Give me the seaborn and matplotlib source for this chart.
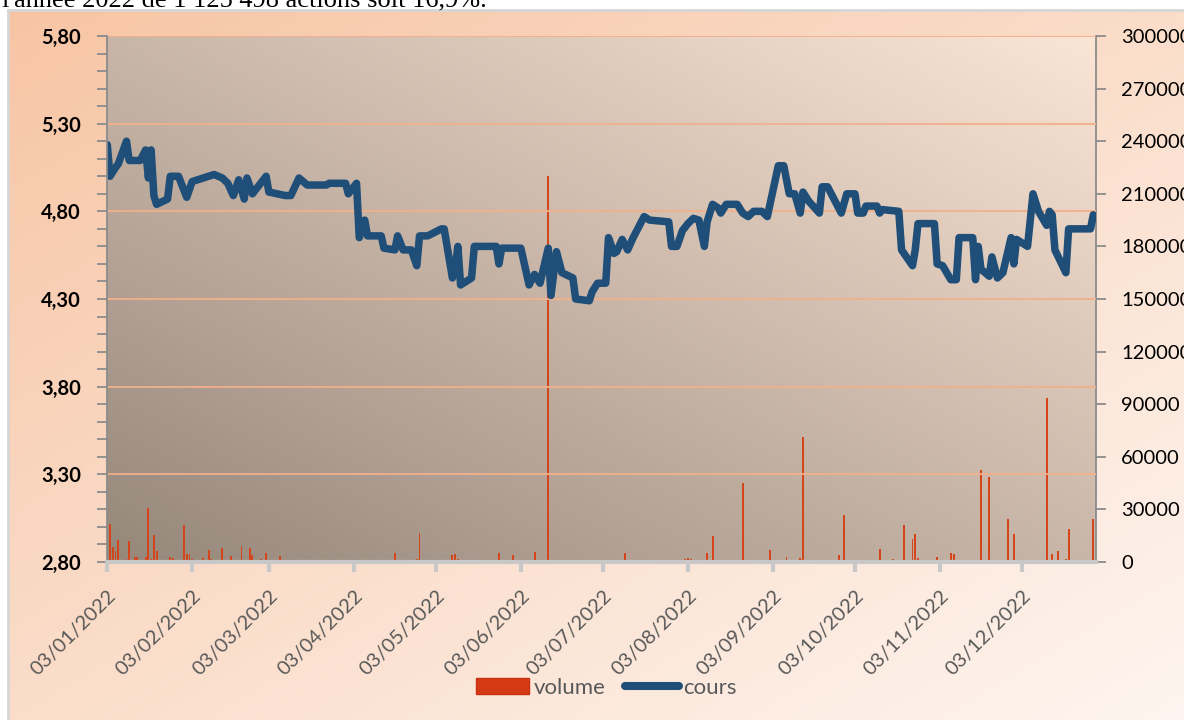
import numpy as np
import pandas as pd
import matplotlib
matplotlib.use("Agg")
import matplotlib.pyplot as plt
import matplotlib.ticker as mticker
from matplotlib.lines import Line2D
from matplotlib.patches import Patch
import seaborn as sns

# cours de l'action
cours_dates = [
    "2022-01-03", "2022-01-04", "2022-01-06", "2022-01-07", "2022-01-10", "2022-01-11",
    "2022-01-15", "2022-01-17", "2022-01-18", "2022-01-19", "2022-01-20", "2022-01-21",
    "2022-01-25", "2022-01-26", "2022-01-29", "2022-02-01", "2022-02-03", "2022-02-07",
    "2022-02-11", "2022-02-14", "2022-02-16", "2022-02-18", "2022-02-20", "2022-02-22",
    "2022-02-23", "2022-02-25", "2022-02-28", "2022-03-02", "2022-03-03", "2022-03-09",
    "2022-03-11", "2022-03-14", "2022-03-17", "2022-03-24", "2022-03-25", "2022-03-31",
    "2022-04-01", "2022-04-04", "2022-04-05", "2022-04-07", "2022-04-08", "2022-04-13",
    "2022-04-14", "2022-04-18", "2022-04-19", "2022-04-21", "2022-04-24", "2022-04-26",
    "2022-04-27", "2022-04-30", "2022-05-05", "2022-05-06", "2022-05-09", "2022-05-10",
    "2022-05-11", "2022-05-12", "2022-05-16", "2022-05-17", "2022-05-25", "2022-05-26",
    "2022-05-27", "2022-06-03", "2022-06-06", "2022-06-08", "2022-06-10", "2022-06-13",
    "2022-06-14", "2022-06-16", "2022-06-18", "2022-06-22", "2022-06-23", "2022-06-28",
    "2022-06-29", "2022-07-01", "2022-07-04", "2022-07-05", "2022-07-07", "2022-07-08",
    "2022-07-10", "2022-07-12", "2022-07-14", "2022-07-18", "2022-07-20", "2022-07-27",
    "2022-07-28", "2022-07-30", "2022-08-01", "2022-08-03", "2022-08-05", "2022-08-07",
    "2022-08-09", "2022-08-10", "2022-08-12", "2022-08-14", "2022-08-15", "2022-08-17",
    "2022-08-21", "2022-08-23", "2022-08-25", "2022-08-27", "2022-08-30", "2022-09-01",
    "2022-09-05", "2022-09-07", "2022-09-09", "2022-09-11", "2022-09-13", "2022-09-14",
    "2022-09-16", "2022-09-20", "2022-09-21", "2022-09-23", "2022-09-28", "2022-09-30",
    "2022-10-03", "2022-10-04", "2022-10-06", "2022-10-07", "2022-10-11", "2022-10-12",
    "2022-10-13", "2022-10-19", "2022-10-20", "2022-10-24", "2022-10-25", "2022-10-26",
    "2022-11-01", "2022-11-02", "2022-11-04", "2022-11-07", "2022-11-09", "2022-11-10",
    "2022-11-15", "2022-11-16", "2022-11-17", "2022-11-18", "2022-11-21", "2022-11-22",
    "2022-11-24", "2022-11-26", "2022-11-29", "2022-11-30", "2022-12-01", "2022-12-05",
    "2022-12-07", "2022-12-09", "2022-12-12", "2022-12-13", "2022-12-14", "2022-12-15",
    "2022-12-19", "2022-12-20", "2022-12-28", "2022-12-29", "2022-12-30",
]
cours = [
    5.18, 5.00, 5.05, 5.07, 5.20, 5.09,
    5.09, 5.15, 4.99, 5.15, 4.89, 4.84,
    4.87, 5.00, 5.00, 4.88, 4.97, 4.99,
    5.01, 4.99, 4.96, 4.89, 4.98, 4.87,
    4.99, 4.90, 4.96, 5.00, 4.91, 4.89,
    4.89, 4.99, 4.95, 4.95, 4.96, 4.96,
    4.90, 4.96, 4.65, 4.75, 4.66, 4.66,
    4.59, 4.58, 4.66, 4.58, 4.58, 4.49,
    4.66, 4.66, 4.70, 4.70, 4.42, 4.47,
    4.60, 4.38, 4.42, 4.60, 4.60, 4.50,
    4.59, 4.59, 4.38, 4.44, 4.39, 4.59,
    4.32, 4.57, 4.45, 4.42, 4.30, 4.29,
    4.34, 4.39, 4.39, 4.65, 4.56, 4.57,
    4.64, 4.58, 4.65, 4.77, 4.75, 4.74,
    4.60, 4.60, 4.69, 4.73, 4.76, 4.75,
    4.60, 4.74, 4.84, 4.82, 4.79, 4.84,
    4.84, 4.79, 4.77, 4.80, 4.80, 4.77,
    5.06, 5.06, 4.90, 4.90, 4.79, 4.91,
    4.86, 4.79, 4.94, 4.94, 4.79, 4.90,
    4.90, 4.79, 4.79, 4.83, 4.83, 4.79,
    4.81, 4.80, 4.58, 4.49, 4.58, 4.73,
    4.73, 4.50, 4.49, 4.41, 4.41, 4.65,
    4.65, 4.41, 4.60, 4.47, 4.43, 4.54,
    4.42, 4.45, 4.65, 4.50, 4.64, 4.60,
    4.90, 4.80, 4.72, 4.80, 4.78, 4.58,
    4.45, 4.70, 4.70, 4.78, 4.76,
]

# volumes échangés
volume_dates = [
    "2022-01-04", "2022-01-05", "2022-01-06", "2022-01-07", "2022-01-10", "2022-01-11",
    "2022-01-12", "2022-01-13", "2022-01-14", "2022-01-17", "2022-01-18", "2022-01-19",
    "2022-01-20", "2022-01-21", "2022-01-26", "2022-01-27", "2022-01-28", "2022-01-31",
    "2022-02-01", "2022-02-02", "2022-02-03", "2022-02-07", "2022-02-09", "2022-02-10",
    "2022-02-14", "2022-02-17", "2022-02-21", "2022-02-22", "2022-02-24", "2022-02-25",
    "2022-02-28", "2022-03-02", "2022-03-07", "2022-03-10", "2022-04-18", "2022-04-26",
    "2022-04-27", "2022-05-09", "2022-05-10", "2022-05-11", "2022-05-13", "2022-05-26",
    "2022-05-31", "2022-06-07", "2022-06-08", "2022-06-13", "2022-06-17", "2022-06-21",
    "2022-06-30", "2022-07-05", "2022-07-11", "2022-07-13", "2022-08-02", "2022-08-03",
    "2022-08-04", "2022-08-10", "2022-08-12", "2022-08-23", "2022-09-02", "2022-09-08",
    "2022-09-09", "2022-09-13", "2022-09-14", "2022-09-27", "2022-09-29", "2022-10-12",
    "2022-10-17", "2022-10-21", "2022-10-24", "2022-10-25", "2022-10-26", "2022-11-02",
    "2022-11-07", "2022-11-08", "2022-11-18", "2022-11-21", "2022-11-28", "2022-11-30",
    "2022-12-07", "2022-12-12", "2022-12-14", "2022-12-16", "2022-12-19", "2022-12-20",
    "2022-12-29",
]
volumes = [
    21500, 8600, 6300, 12400, 1500, 12000,
    1000, 2900, 2900, 2900, 31000, 1900,
    15200, 6300, 2900, 2500, 1300, 21300,
    4400, 4400, 1900, 2500, 6700, 1900,
    8000, 3400, 9300, 1300, 8200, 3800,
    1900, 5300, 3400, 1300, 5100, 1900,
    16600, 3800, 4400, 1900, 800, 5300,
    3800, 1000, 5700, 220000, 800, 800,
    800, 800, 4900, 800, 1500, 2000,
    1800, 4900, 14800, 44800, 6800, 3000,
    1000, 2500, 71400, 3800, 26600, 7200,
    1900, 21300, 12900, 15800, 2500, 2800,
    4900, 4700, 52200, 48200, 24300, 15800,
    800, 93600, 4400, 6300, 1900, 18600,
    24300,
]

mois = ["2022-%02d-03" % m for m in range(1, 13)]
texte_haut = "l'année 2022 de 1 125 498 actions soit 16,9%."

df_cours = pd.DataFrame({"date": pd.to_datetime(cours_dates), "cours": cours})
df_vol = pd.DataFrame({"date": pd.to_datetime(volume_dates), "volume": volumes})

sns.set_theme(style="white")
plt.rcParams["font.family"] = ["Lato", "DejaVu Sans"]

W, H = 1184, 720
fig = plt.figure(figsize=(W / 100, H / 100), dpi=100, facecolor="white")


def box(x0, y0, x1, y1):
    return [x0 / W, 1 - y1 / H, (x1 - x0) / W, (y1 - y0) / H]


def gradient(c0, c1, top_left_dark=False):
    u = np.linspace(0, 1, 400)[None, :]
    v = np.linspace(0, 1, 300)[:, None]   # 0 en haut
    if top_left_dark:
        t = (u + v) / 2
    else:
        t = (u + (1 - v)) / 2
    c0 = np.array(c0) / 255
    c1 = np.array(c1) / 255
    return c0 + t[..., None] * (c1 - c0)


# fond de la zone graphique (dégradé pêche)
outer = fig.add_axes(box(8, 10, W, H), zorder=-3)
outer.imshow(gradient((247, 197, 164), (254, 245, 240), top_left_dark=True),
             aspect="auto", extent=(0, 1, 0, 1))
outer.set_xticks([])
outer.set_yticks([])
for s in ["right", "bottom"]:
    outer.spines[s].set_visible(False)
for s in ["top", "left"]:
    outer.spines[s].set_color("#d6d6d6")
    outer.spines[s].set_linewidth(2)

pos = box(107.3, 36, 1096, 562)

# fond du tracé
pbg = fig.add_axes(pos, zorder=-2)
pbg.imshow(gradient((150, 135, 123), (251, 229, 213)), aspect="auto", extent=(0, 1, 0, 1))
pbg.axis("off")

xmin, xmax = pd.Timestamp("2022-01-03"), pd.Timestamp("2022-12-30")

# volumes (axe de droite)
ax2 = fig.add_axes(pos, zorder=1)
ax2.patch.set_visible(False)
ax2.bar(df_vol["date"], df_vol["volume"], width=0.7, color="#d4451c", linewidth=0)
ax2.set_xlim(xmin, xmax)
ax2.set_ylim(0, 300000)
ax2.xaxis.set_visible(False)
ax2.yaxis.tick_right()
ax2.set_yticks(range(0, 300001, 30000))
ax2.set_yticklabels([str(v) for v in range(0, 300001, 30000)])
ax2.tick_params(axis="y", direction="out", length=7, width=1.3, color="#8c8c8c",
                labelcolor="black", labelsize=14.5, pad=11)
for s in ["top", "left", "bottom"]:
    ax2.spines[s].set_visible(False)
ax2.spines["right"].set_color("#8c8c8c")
ax2.spines["right"].set_linewidth(1.3)

# cours (axe de gauche)
ax = fig.add_axes(pos, zorder=2)
ax.patch.set_visible(False)
sns.lineplot(data=df_cours, x="date", y="cours", ax=ax, color="#1f4e79", lw=5.4,
             solid_joinstyle="round", solid_capstyle="round", legend=False)
ax.set_xlim(xmin, xmax)
ax.set_ylim(2.8, 5.8)
ax.set_xlabel("")
ax.set_ylabel("")
ax.set_yticks(np.arange(2.8, 5.81, 0.5))
ax.yaxis.set_minor_locator(mticker.MultipleLocator(0.1))
ax.yaxis.set_major_formatter(mticker.FuncFormatter(lambda v, p: f"{v:.2f}".replace(".", ",")))
ax.yaxis.grid(True, which="major", color="#f2b08a", lw=1.3)
ax.tick_params(axis="y", which="both", left=True, direction="out", length=7, width=1.3,
               color="#8c8c8c", labelsize=14.5, labelcolor="black", pad=12)
for lab in ax.get_yticklabels():
    lab.set_fontweight("bold")

ax.set_xticks(pd.to_datetime(mois))
ax.set_xticklabels([pd.Timestamp(m).strftime("%d/%m/%Y") for m in mois],
                   rotation=45, ha="right", rotation_mode="anchor")
ax.tick_params(axis="x", bottom=True, direction="out", length=7, width=3, color="#c8c8c8",
               labelsize=14.5, labelcolor="#595959", pad=11)

for s in ["top", "right"]:
    ax.spines[s].set_visible(False)
ax.spines["left"].set_color("#8c8c8c")
ax.spines["left"].set_linewidth(1.3)
ax.spines["bottom"].set_color("#c8c8c8")
ax.spines["bottom"].set_linewidth(3)

handles = [
    Patch(facecolor="#d63a14", edgecolor="#c83210", label="volume"),
    Line2D([], [], color="#1f4e79", lw=5.8, solid_capstyle="round", label="cours"),
]
fig.legend(handles=handles, loc="center", bbox_to_anchor=(606 / W, 1 - 688 / H), ncol=2,
           frameon=False, fontsize=16, labelcolor="#595959", handlelength=2.4,
           handletextpad=0.2, columnspacing=0.9)

fig.text(2 / W, 1 - 6 / H, texte_haut, fontfamily="Liberation Serif", fontsize=19,
         va="baseline", ha="left", color="black")

fig.savefig("out.png", dpi=100)
